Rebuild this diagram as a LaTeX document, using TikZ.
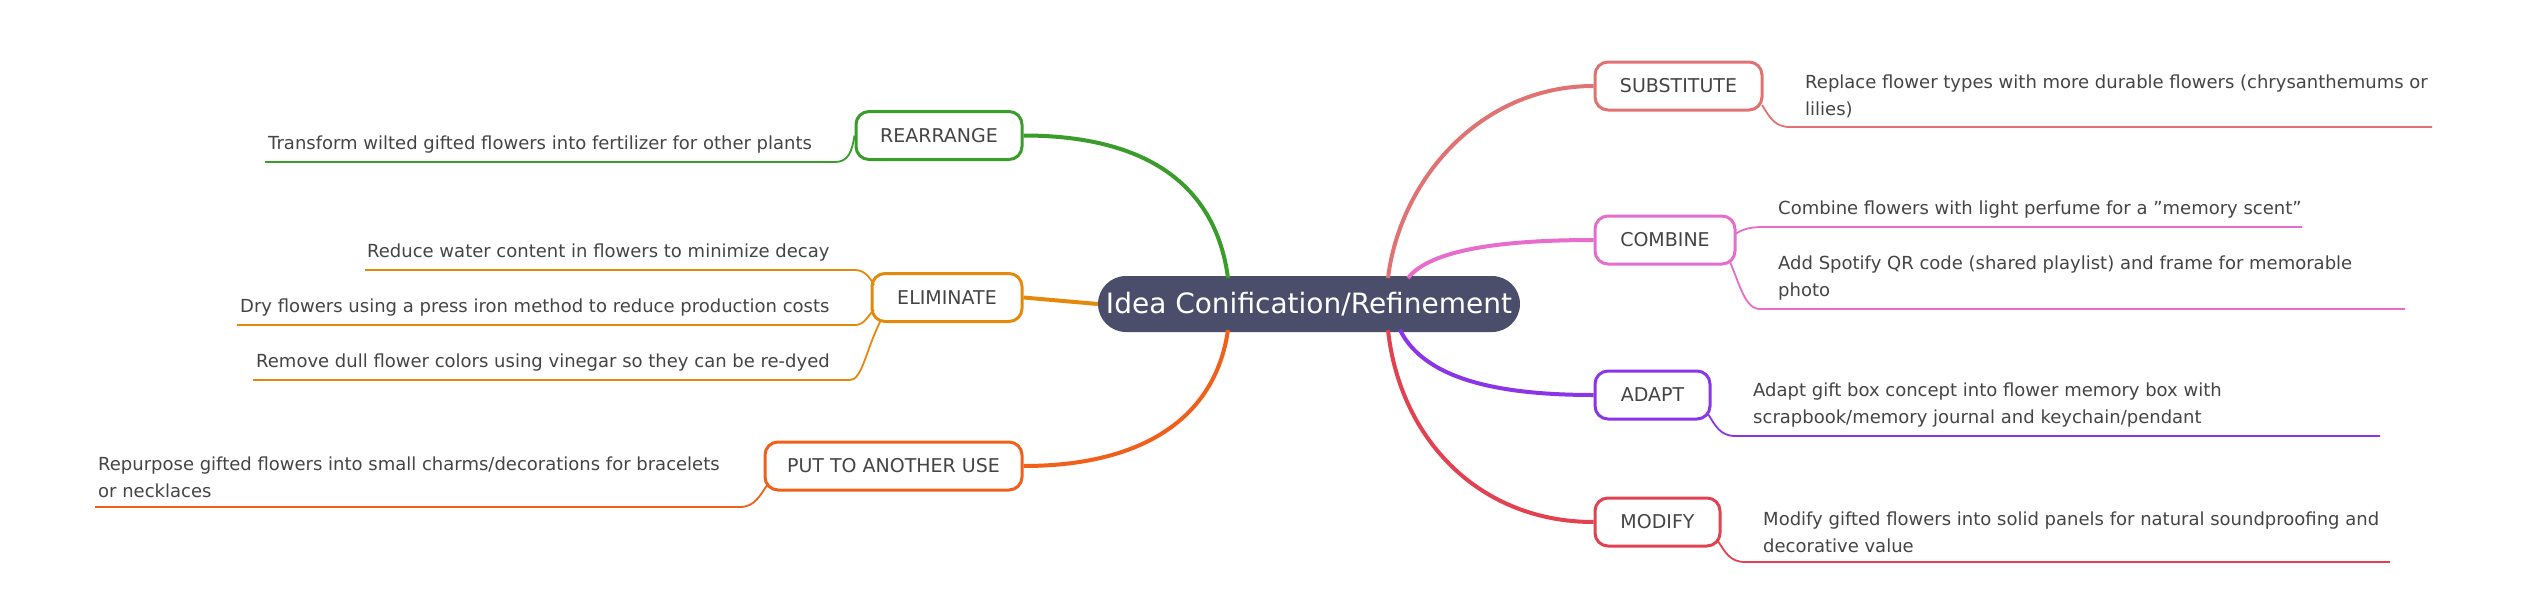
\documentclass[tikz,border=0pt]{standalone}
\usepackage{fontspec}
\setmainfont{DejaVu Sans}
\definecolor{cgreen}{HTML}{3A9C2A}
\definecolor{corange}{HTML}{E38A0C}
\definecolor{cred}{HTML}{F0601A}
\definecolor{csub}{HTML}{E07272}
\definecolor{ccomb}{HTML}{E86CCB}
\definecolor{cadapt}{HTML}{8A36E8}
\definecolor{cmod}{HTML}{E2414F}
\definecolor{ccenter}{HTML}{4A4E6B}
\definecolor{ctext}{HTML}{444444}
\tikzset{
  box/.style={draw=#1, line width=3pt, rounded corners=13pt, fill=white,
    minimum height=48pt, text=ctext, font=\fontsize{19}{22}\selectfont},
  leaf/.style={anchor=south west, align=left, inner sep=0pt, text=ctext,
    font=\fontsize{18}{27}\selectfont},
  branch/.style={draw=#1, line width=4pt},
  twig/.style={draw=#1, line width=1.8pt}
}
\begin{document}
\begin{tikzpicture}[x=1pt,y=-1pt]
  \useasboundingbox (0,0) rectangle (2527,608);

  % centre
  \node[fill=ccenter, rounded corners=28pt, minimum width=422pt, minimum height=56pt,
    text=white, font=\fontsize{28}{32}\selectfont] (idea) at (1309,304) {Idea Conification/Refinement};

  % left side
  \node[box=cgreen, minimum width=166pt] (rearr) at (939,135.5) {REARRANGE};
  \node[box=corange, minimum width=150pt] (elim) at (947,297.5) {ELIMINATE};
  \node[box=cred, minimum width=257pt] (reuse) at (893.5,466) {PUT TO ANOTHER USE};

  \draw[branch=cgreen] (1228,278) .. controls (1215,180) and (1140,135.5) .. (rearr.east);
  \draw[branch=corange] (elim.east) -- (idea.west);
  \draw[branch=cred] (1228,330) .. controls (1215,420) and (1140,466) .. (reuse.east);

  \node[leaf] (t1) at (268,153) {Transform wilted gifted flowers into fertilizer for other plants};
  \draw[twig=cgreen] (265,162) -- (835,162) .. controls (848,162) and (852,152) .. (rearr.west);

  \node[leaf] (e1) at (367,261) {Reduce water content in flowers to minimize decay};
  \node[leaf] (e2) at (240,316) {Dry flowers using a press iron method to reduce production costs};
  \node[leaf] (e3) at (256,371) {Remove dull flower colors using vinegar so they can be re-dyed};
  \draw[twig=corange] (365,270) -- (855,270) .. controls (865,270) and (870,278) .. (874,285);
  \draw[twig=corange] (237,325) -- (855,325) .. controls (865,325) and (868,315) .. (874,310);
  \draw[twig=corange] (253,380) -- (850,380) .. controls (862,380) and (866,350) .. (880,322);

  \node[leaf] (p1) at (98,498) {Repurpose gifted flowers into small charms/decorations for bracelets\\or necklaces};
  \draw[twig=cred] (95,507) -- (740,507) .. controls (755,507) and (760,495) .. (768,484);

  % right side
  \node[box=csub, minimum width=167pt] (subst) at (1678.5,86) {SUBSTITUTE};
  \node[box=ccomb, minimum width=140pt] (comb) at (1665,240) {COMBINE};
  \node[box=cadapt, minimum width=115pt] (adapt) at (1652.5,395) {ADAPT};
  \node[box=cmod, minimum width=125pt] (modif) at (1657.5,522) {MODIFY};

  \draw[branch=csub] (1388,278) .. controls (1400,180) and (1480,86) .. (subst.west);
  \draw[branch=ccomb] (1408,278) .. controls (1430,250) and (1500,240) .. (comb.west);
  \draw[branch=cadapt] (1400,330) .. controls (1425,380) and (1500,395) .. (adapt.west);
  \draw[branch=cmod] (1388,330) .. controls (1400,440) and (1480,522) .. (modif.west);

  \node[leaf] (s1) at (1805,118) {Replace flower types with more durable flowers (chrysanthemums or\\lilies)};
  \draw[twig=csub] (1762,105) .. controls (1770,118) and (1775,127) .. (1790,127) -- (2432,127);

  \node[leaf] (c1) at (1778,218) {Combine flowers with light perfume for a "memory scent"};
  \node[leaf] (c2) at (1778,300) {Add Spotify QR code (shared playlist) and frame for memorable\\photo};
  \draw[twig=ccomb] (1735,234) .. controls (1745,228) and (1752,227) .. (1765,227) -- (2302,227);
  \draw[twig=ccomb] (1730,262) .. controls (1740,285) and (1745,309) .. (1760,309) -- (2405,309);

  \node[leaf] (a1) at (1753,427) {Adapt gift box concept into flower memory box with\\scrapbook/memory journal and keychain/pendant};
  \draw[twig=cadapt] (1708,414) .. controls (1715,425) and (1720,436) .. (1735,436) -- (2380,436);

  \node[leaf] (m1) at (1763,553) {Modify gifted flowers into solid panels for natural soundproofing and\\decorative value};
  \draw[twig=cmod] (1718,541) .. controls (1725,552) and (1730,562) .. (1745,562) -- (2390,562);
\end{tikzpicture}
\end{document}
